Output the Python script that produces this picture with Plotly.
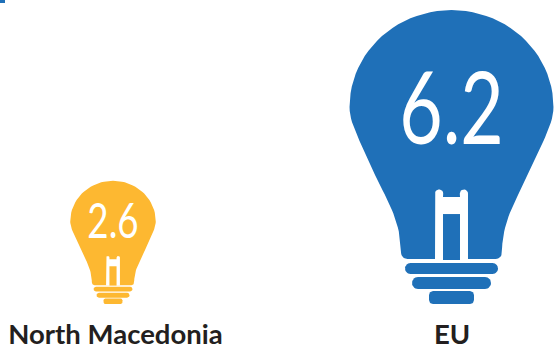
import numpy as np
import plotly.graph_objects as go

categories = ["North Macedonia", "EU"]
values = [2.6, 6.2]
value_labels = ["2.6", "6.2"]
colors = ["#FDB831", "#1F70B8"]

W, H = 555, 345
PX_PER_UNIT = 47.4      # bulb height is proportional to the value
BASE_PX = 304
CENTERS_PX = [113, 451.5]
LABEL_CENTERS_PX = [115.5, 452]
LABEL_Y_PX = 337
NUM_SIZES = [49, 100]
NUM_Y_FRAC = [0.635, 0.628]
NUM_FONT = "Lato, sans-serif"
LABEL_FONT = "Lato, sans-serif"
TEMPLATE_H = 294.0


def bez(p0, p1, p2, p3, n=24):
    t = np.linspace(0, 1, n)[:, None]
    p0, p1, p2, p3 = map(np.array, (p0, p1, p2, p3))
    return (1 - t) ** 3 * p0 + 3 * (1 - t) ** 2 * t * p1 + 3 * (1 - t) * t ** 2 * p2 + t ** 3 * p3


def to_unit(pts):
    a = np.array(pts, dtype=float)
    return a / TEMPLATE_H


def glass():
    right = np.vstack([
        bez((0, 294), (56, 294), (102, 251), (102, 197)),
        bez((102, 197), (102, 185), (97, 175), (92, 163), 10),
        bez((76.5, 129), (68, 110), (50.5, 85), (50.5, 52)),
        bez((50.5, 52), (50.5, 48), (48, 45), (44, 45), 8),
    ])
    left = right[::-1] * np.array([-1, 1])
    return to_unit(np.vstack([right, left]))


def rrect(x0, x1, y0, y1, r):
    pts = []
    for cx, cy, a0 in [(x1 - r, y1 - r, 0), (x0 + r, y1 - r, 90), (x0 + r, y0 + r, 180), (x1 - r, y0 + r, 270)]:
        for a in np.radians(np.linspace(a0, a0 + 90, 8)):
            pts.append((cx + r * np.cos(a), cy + r * np.sin(a)))
    return to_unit(pts)


def filament():
    pts = [(-16.5, 44), (-16.5, 110.5)]
    pts += [(-12.4 - 4.1 * np.cos(a), 110.5 + 4.2 * np.sin(a)) for a in np.radians(np.linspace(0, 180, 10))]
    pts += [(-8.5, 107), (8.5, 107)]
    pts += [(12.4 - 4.1 * np.cos(a), 110.5 + 4.2 * np.sin(a)) for a in np.radians(np.linspace(0, 180, 10))]
    pts += [(16.5, 44)]
    return to_unit(pts)


def inner():
    return to_unit([(-8.5, 44), (-8.5, 90), (8.5, 90), (8.5, 44)])


PARTS = [
    (glass, None),
    (filament, "#FFFFFF"),
    (inner, None),
    (lambda: rrect(-46.5, 46.5, 30, 41, 5.5), None),
    (lambda: rrect(-39.5, 39.5, 15, 27, 6), None),
    (lambda: rrect(-22.5, 22.5, 0, 13, 4), None),
]

fig = go.Figure()
for cat, val, col, cx in zip(categories, values, colors, CENTERS_PX):
    c = cx / PX_PER_UNIT
    for part, override in PARTS:
        p = part() * val
        fig.add_trace(go.Scatter(
            x=p[:, 0] + c, y=p[:, 1], mode="lines", fill="toself",
            fillcolor=override or col, line=dict(width=0, color=override or col),
            hoverinfo="skip", showlegend=False, name=cat))

for lab, val, cx, size, frac in zip(value_labels, values, CENTERS_PX, NUM_SIZES, NUM_Y_FRAC):
    fig.add_trace(go.Scatter(
        x=[cx / PX_PER_UNIT], y=[val * frac], mode="text", text=[lab],
        textposition="middle center", hoverinfo="skip", showlegend=False,
        textfont=dict(family=NUM_FONT, size=size, color="#FFFFFF", weight=400)))

for cat, cx in zip(categories, LABEL_CENTERS_PX):
    fig.add_trace(go.Scatter(
        x=[cx / PX_PER_UNIT], y=[(BASE_PX - LABEL_Y_PX) / PX_PER_UNIT], mode="text",
        text=[f"<b>{cat}</b>"], textposition="middle center", hoverinfo="skip", showlegend=False,
        textfont=dict(family=LABEL_FONT, size=27.5, color="#231F20")))

fig.update_layout(
    width=W, height=H, margin=dict(l=0, r=0, t=0, b=0),
    paper_bgcolor="white", plot_bgcolor="white",
    xaxis=dict(range=[0, W / PX_PER_UNIT], visible=False, fixedrange=True),
    yaxis=dict(range=[(BASE_PX - H) / PX_PER_UNIT, BASE_PX / PX_PER_UNIT], visible=False, fixedrange=True),
    shapes=[dict(type="rect", xref="paper", yref="paper", x0=0, x1=5 / W, y0=1 - 3 / H, y1=1,
                 fillcolor="#1F70B8", line_width=0)],
)
POST = """
document.body.style.margin = '0';
document.documentElement.style.overflow = 'hidden';
document.querySelectorAll('.textpoint text').forEach(function (t) {
  if (/^[0-9.]+$/.test(t.textContent)) {
    t.style.transformBox = 'fill-box';
    t.style.transformOrigin = 'center';
    t.style.transform = 'scaleX(0.75)';
  }
});
"""
fig.write_html("out.html", config={"displayModeBar": False}, post_script=POST)
